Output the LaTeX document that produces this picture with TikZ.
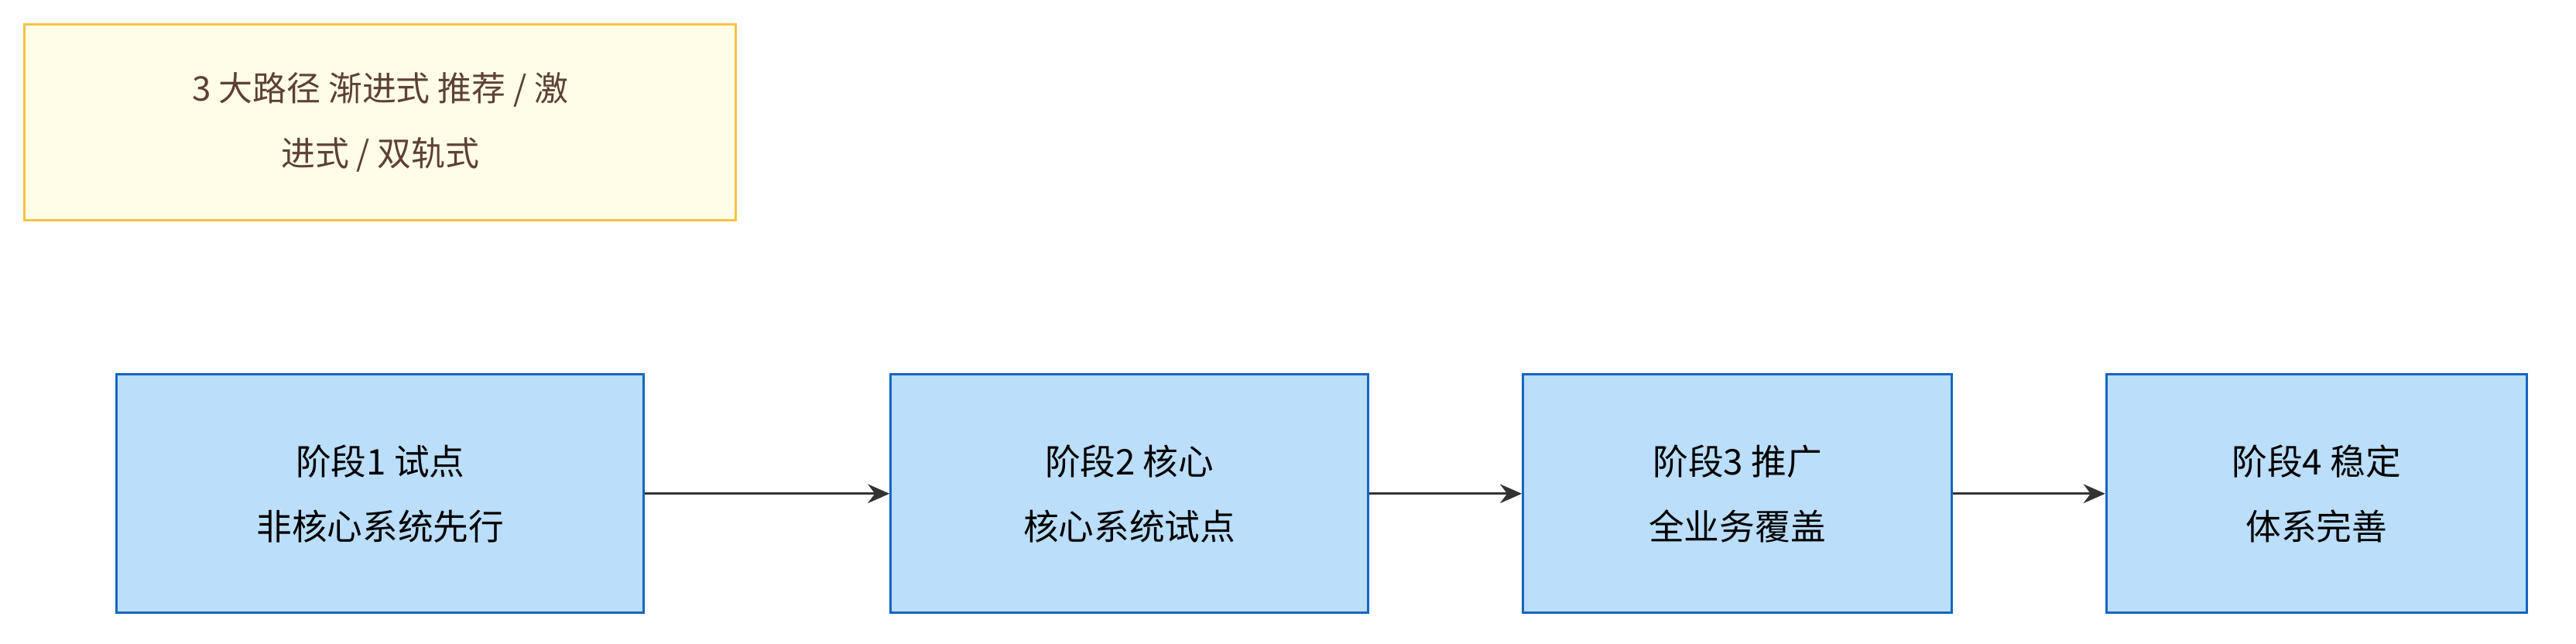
\documentclass[tikz,border=0pt]{standalone}
\usepackage{fontspec}
\setmainfont{Noto Sans CJK SC}
\usetikzlibrary{positioning, arrows.meta}
\definecolor{stageblue}{RGB}{187, 222, 251}
\definecolor{stageline}{RGB}{21, 101, 192}
\definecolor{noteyellow}{RGB}{255, 253, 231}
\definecolor{noteline}{RGB}{245, 195, 66}
\definecolor{notetext}{RGB}{93, 64, 55}
\begin{document}
\begin{tikzpicture}[
    x=0.02122cm, y=-0.02122cm,
    stage/.style={rectangle, draw=stageline, fill=stageblue, thick, minimum height=3.08cm, align=center, font=\fontsize{13}{24}\selectfont},
    note/.style={rectangle, draw=noteline, fill=noteyellow, thick, minimum width=9.19cm, minimum height=2.53cm, align=center, text=notetext, font=\fontsize{12.5}{24}\selectfont},
    arrow/.style={-{Stealth[length=8pt, width=7pt]}, thick, black!80}
]
    \useasboundingbox (0,0) rectangle (1568,392);
    \node[note] (paths) at (231.5,74.5) {3 大路径 渐进式 推荐 / 激\\进式 / 双轨式};
    \node[stage, minimum width=6.81cm] (pilot) at (231.5,300.5) {阶段1 试点\\非核心系统先行};
    \node[stage, minimum width=6.17cm] (core) at (687.5,300.5) {阶段2 核心\\核心系统试点};
    \node[stage, minimum width=5.54cm] (rollout) at (1057.5,300.5) {阶段3 推广\\全业务覆盖};
    \node[stage, minimum width=5.43cm] (stable) at (1410,300.5) {阶段4 稳定\\体系完善};

    \draw[arrow] (pilot) -- (core);
    \draw[arrow] (core) -- (rollout);
    \draw[arrow] (rollout) -- (stable);
\end{tikzpicture}
\end{document}
